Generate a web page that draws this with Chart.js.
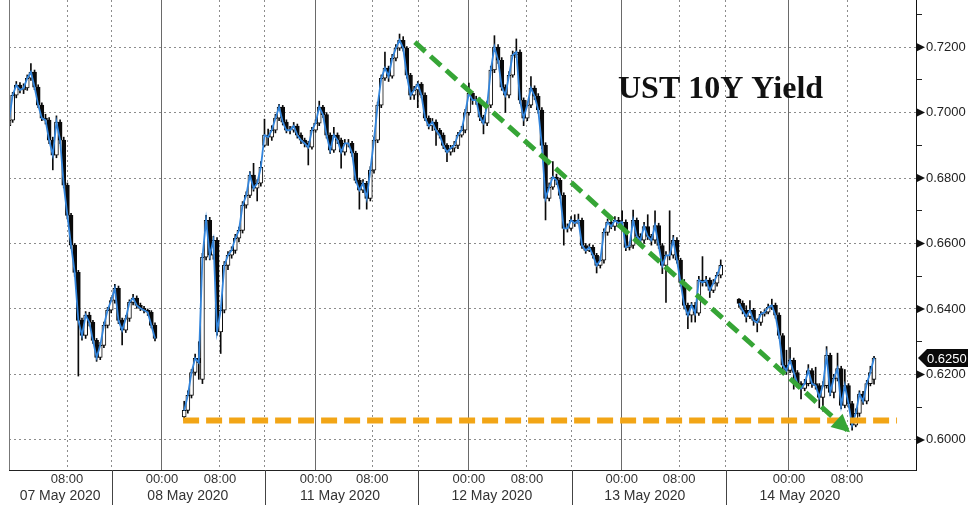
<!DOCTYPE html>
<html>
<head>
<meta charset="utf-8">
<script src="https://cdn.jsdelivr.net/npm/chart.js@4.4.1/dist/chart.umd.min.js"></script>
<style>
  html, body { margin: 0; padding: 0; background: #fff; }
</style>
</head>
<body>
<canvas id="ust-chart" width="976" height="505"></canvas>
<script>
// 30 minute bars. x = slot on the gap-compressed session axis, null = no trading
var opens = [
  .6960,.6977,.7053,.7084,.7069,.7075,.7105,.7124,.7078,.7023,
  .6983,.6977,.6916,.6870,.6971,.6916,.6778,.6686,.6595,.6512,
  .6365,.6319,.6381,.6359,.6304,.6252,.6289,.6350,.6396,.6426,
  .6463,.6365,.6335,.6371,.6420,.6433,.6411,.6402,.6396,.6390,.6350,
  null,null,null,null,null,null,null,
  .6070,.6090,.6136,.6206,.6249,.6185,.6558,.6671,.6564,.6610,
  .6330,.6396,.6533,.6564,.6579,.6616,.6640,.6717,.6747,.6809,.6769,.6784,
  .6900,.6931,.6925,.6946,.6983,.7017,.6971,.6946,.6946,.6959,
  .6931,.6916,.6906,.6894,.6946,.6968,.7017,.6994,.6931,.6885,
  .6931,.6916,.6879,.6906,.6906,.6876,.6793,.6763,.6784,.6738,
  .6824,.6916,.7023,.7105,.7136,.7111,.7166,.7197,.7221,.7197,
  .7114,.7053,.7069,.7087,.7053,.6983,.6959,.6971,.6946,.6931,
  .6900,.6879,.6891,.6900,.6931,.6946,.7000,.7059,.7038,.7038,
  .6986,.6968,.7023,.7130,.7200,.7160,.7078,.7053,.7114,.7176,
  .7185,.7038,.6983,.7023,.7075,.7050,.7008,.6900,.6738,.6772,
  .6803,.6793,.6747,.6646,.6646,.6671,.6662,.6671,.6594,.6579,
  .6588,.6564,.6533,.6549,.6634,.6665,.6652,.6671,.6662,.6665,
  .6588,.6594,.6671,.6622,.6610,.6652,.6622,.6610,.6655,.6594,
  .6533,.6564,.6564,.6610,.6549,.6481,.6411,.6381,.6411,.6387,
  .6488,.6481,.6488,.6457,.6479,.6503,
  null,null,null,null,
  .6430,.6417,.6396,.6377,.6396,.6365,.6359,.6384,.6390,.6405,
  .6411,.6381,.6319,.6228,.6212,.6243,.6206,.6172,.6157,.6172,
  .6212,.6172,.6166,.6130,.6166,.6258,.6145,.6188,.6218,.6105,
  .6166,.6111,.6045,.6081,.6140,.6118,.6172,.6185
];
var highs = [
  .6990,.7062,.7095,.7092,.7088,.7115,.7150,.7130,.7085,.7030,
  .6995,.6985,.6925,.6990,.6978,.6925,.6785,.6692,.6600,.6518,
  .6372,.6392,.6390,.6365,.6310,.6298,.6360,.6405,.6435,.6475,
  .6470,.6372,.6380,.6428,.6445,.6440,.6418,.6408,.6400,.6395,.6358,
  null,null,null,null,null,null,null,
  .6118,.6150,.6215,.6262,.6300,.6570,.6686,.6680,.6622,.6618,
  .6405,.6545,.6575,.6590,.6628,.6650,.6728,.6758,.6820,.6845,.6795,.6850,
  .6980,.6950,.6960,.6995,.7025,.7022,.6978,.6958,.6970,.6965,
  .6938,.6922,.6912,.6955,.6978,.7035,.7022,.7000,.6938,.6955,
  .6938,.6922,.6918,.6918,.6912,.6882,.6800,.6795,.6790,.6835,
  .6925,.7032,.7115,.7185,.7142,.7178,.7208,.7240,.7232,.7202,
  .7120,.7080,.7095,.7092,.7060,.6990,.6982,.6978,.6952,.6938,
  .6905,.6900,.6912,.6940,.6958,.7010,.7090,.7065,.7050,.7045,
  .6992,.7035,.7142,.7235,.7208,.7168,.7085,.7125,.7188,.7225,
  .7192,.7045,.7032,.7110,.7082,.7058,.7015,.6908,.6785,.6850,
  .6812,.6800,.6755,.6660,.6682,.6688,.6690,.6678,.6600,.6598,
  .6595,.6570,.6560,.6645,.6675,.6680,.6682,.6680,.6700,.6672,
  .6605,.6702,.6678,.6630,.6665,.6688,.6628,.6700,.6662,.6600,
  .6575,.6700,.6625,.6618,.6555,.6490,.6418,.6420,.6420,.6500,
  .6560,.6500,.6495,.6490,.6512,.6550,
  null,null,null,null,
  .6432,.6425,.6410,.6426,.6402,.6370,.6392,.6398,.6415,.6430,
  .6418,.6388,.6325,.6274,.6282,.6250,.6212,.6178,.6185,.6230,
  .6218,.6222,.6172,.6178,.6285,.6265,.6200,.6265,.6225,.6215,
  .6172,.6118,.6095,.6150,.6148,.6182,.6225,.6255
];
var lows = [
  .6940,.6970,.7045,.7060,.7058,.7068,.7098,.7070,.7015,.6975,
  .6965,.6905,.6825,.6862,.6905,.6770,.6675,.6585,.6500,.6195,
  .6305,.6310,.6348,.6295,.6240,.6245,.6282,.6342,.6388,.6418,
  .6355,.6290,.6328,.6362,.6412,.6402,.6395,.6388,.6380,.6342,.6302,
  null,null,null,null,null,null,null,
  .6060,.6082,.6128,.6198,.6185,.6172,.6550,.6550,.6552,.6320,
  .6264,.6388,.6520,.6555,.6570,.6605,.6632,.6708,.6740,.6760,.6730,.6775,
  .6895,.6900,.6915,.6938,.6975,.6962,.6938,.6935,.6940,.6922,
  .6905,.6895,.6840,.6888,.6940,.6960,.6985,.6922,.6875,.6878,
  .6905,.6830,.6870,.6895,.6866,.6785,.6705,.6755,.6705,.6730,
  .6815,.6908,.7015,.7098,.7095,.7105,.7158,.7190,.7188,.7105,
  .7040,.7040,.7015,.7045,.6975,.6950,.6945,.6900,.6922,.6890,
  .6850,.6870,.6880,.6890,.6925,.6938,.6992,.7025,.7025,.6975,
  .6935,.6960,.7015,.7122,.7150,.7068,.7000,.7045,.7108,.7168,
  .7028,.6960,.6975,.7015,.7040,.6998,.6890,.6672,.6730,.6765,
  .6780,.6738,.6595,.6635,.6640,.6652,.6660,.6585,.6570,.6575,
  .6555,.6510,.6525,.6540,.6625,.6645,.6640,.6650,.6650,.6578,
  .6580,.6585,.6612,.6600,.6600,.6612,.6595,.6600,.6585,.6508,
  .6420,.6550,.6555,.6540,.6470,.6400,.6340,.6360,.6360,.6380,
  .6470,.6470,.6435,.6450,.6470,.6495,
  null,null,null,null,
  .6405,.6385,.6360,.6370,.6350,.6330,.6350,.6378,.6385,.6398,
  .6372,.6310,.6215,.6200,.6205,.6155,.6160,.6125,.6150,.6165,
  .6160,.6155,.6098,.6088,.6158,.6135,.6128,.6180,.6095,.6098,
  .6100,.6030,.6040,.6072,.6108,.6110,.6165,.6170
];
var closes = [
  .6977,.7053,.7084,.7069,.7075,.7105,.7124,.7078,.7023,.6983,
  .6977,.6916,.6870,.6971,.6916,.6778,.6686,.6595,.6512,.6365,
  .6319,.6381,.6359,.6304,.6252,.6289,.6350,.6396,.6426,.6463,
  .6365,.6335,.6371,.6420,.6433,.6411,.6402,.6396,.6390,.6350,.6310,
  null,null,null,null,null,null,null,
  .6090,.6136,.6206,.6249,.6236,.6558,.6671,.6564,.6610,.6330,
  .6396,.6533,.6564,.6579,.6616,.6640,.6717,.6747,.6809,.6769,.6784,.6833,
  .6931,.6925,.6946,.6983,.7017,.6971,.6946,.6946,.6959,.6931,
  .6916,.6906,.6894,.6946,.6968,.7017,.6994,.6931,.6885,.6931,
  .6916,.6879,.6906,.6906,.6876,.6793,.6763,.6784,.6738,.6824,
  .6916,.7023,.7105,.7136,.7111,.7166,.7197,.7221,.7197,.7114,
  .7053,.7069,.7087,.7053,.6983,.6959,.6971,.6946,.6931,.6900,
  .6879,.6891,.6900,.6931,.6946,.7000,.7059,.7038,.7038,.6986,
  .6968,.7023,.7130,.7200,.7160,.7078,.7053,.7114,.7176,.7185,
  .7038,.6983,.7023,.7075,.7050,.7008,.6900,.6738,.6772,.6803,
  .6793,.6747,.6646,.6646,.6671,.6662,.6671,.6594,.6579,.6588,
  .6564,.6533,.6549,.6634,.6665,.6652,.6671,.6662,.6665,.6588,
  .6594,.6671,.6622,.6610,.6652,.6622,.6610,.6655,.6594,.6533,
  .6564,.6564,.6610,.6549,.6481,.6411,.6381,.6411,.6387,.6488,
  .6481,.6488,.6457,.6479,.6503,.6533,
  null,null,null,null,
  .6417,.6396,.6377,.6396,.6365,.6359,.6384,.6390,.6405,.6411,
  .6381,.6319,.6228,.6212,.6243,.6206,.6172,.6157,.6172,.6212,
  .6172,.6166,.6130,.6166,.6258,.6145,.6188,.6218,.6105,.6166,
  .6111,.6045,.6081,.6140,.6118,.6172,.6206,.6250
];

// axis ticks, in slot units
var dayStarts = [28.2, 70.1, 112.1, 154.2, 196.4];
var midnights = [41.9, 84.1, 126.0, 167.9, 213.7];
var eights = [15.9, 57.8, 99.5, 141.9, 183.6, 229.6];
var dateCenters = [14.0, 49.0, 90.7, 132.3, 174.2, 216.7];
var dateLabels = ['07 May 2020', '08 May 2020', '11 May 2020', '12 May 2020', '13 May 2020', '14 May 2020'];
var yMajor = [0.60, 0.62, 0.64, 0.66, 0.68, 0.70, 0.72];
var yMinor = [0.61, 0.63, 0.65, 0.67, 0.69, 0.71, 0.73];

// hand drawn annotations
var trendX = [111.2, 230.4];
var trendY = [0.7215, 0.6023];
var supportX = [47.7, 243.3];
var supportY = [0.6059, 0.6059];

function inList(list, v) {
  for (var k = 0; k < list.length; k++) {
    if (Math.abs(list[k] - v) < 0.001) return true;
  }
  return false;
}

function noPadding(s) {
  s.paddingTop = 0;
  s.paddingBottom = 0;
  s.paddingLeft = 0;
  s.paddingRight = 0;
}

var wicks = [], bodies = [], closeLine = [];
for (var i = 0; i < closes.length; i++) {
  closeLine.push({ x: i, y: closes[i] });
  if (closes[i] === null) continue;
  wicks.push({ x: i, y: [lows[i], highs[i]] });
  bodies.push({ x: i, y: [opens[i], closes[i]] });
}

var xTicks = dayStarts.concat(midnights, eights).sort(function (a, b) { return a - b; });
var yTicks = yMajor.concat(yMinor).sort(function (a, b) { return a - b; });

var extras = {
  id: 'extras',
  afterDraw: function (chart) {
    var ctx = chart.ctx, area = chart.chartArea;
    var xs = chart.scales.x, ys = chart.scales.y;
    ctx.save();

    // left frame line
    ctx.strokeStyle = '#777';
    ctx.lineWidth = 1;
    ctx.beginPath();
    ctx.moveTo(Math.round(area.left) + 0.5, area.top);
    ctx.lineTo(Math.round(area.left) + 0.5, area.bottom);
    ctx.stroke();

    // day separators below the axis
    ctx.strokeStyle = '#444';
    dayStarts.forEach(function (d) {
      var px = Math.round(xs.getPixelForValue(d)) + 0.5;
      ctx.beginPath();
      ctx.moveTo(px, area.bottom);
      ctx.lineTo(px, chart.height);
      ctx.stroke();
    });

    // pointers on the value axis
    ctx.fillStyle = '#111';
    yMajor.forEach(function (v) {
      var py = ys.getPixelForValue(v);
      ctx.beginPath();
      ctx.moveTo(area.right + 1, py - 4);
      ctx.lineTo(area.right + 9, py);
      ctx.lineTo(area.right + 1, py + 4);
      ctx.closePath();
      ctx.fill();
    });

    // last price tag
    var last = closes[closes.length - 1];
    var ly = ys.getPixelForValue(last);
    ctx.fillStyle = '#0a0a0a';
    ctx.beginPath();
    ctx.moveTo(area.right + 2, ly);
    ctx.lineTo(area.right + 11, ly - 9);
    ctx.lineTo(area.right + 52, ly - 9);
    ctx.lineTo(area.right + 52, ly + 9);
    ctx.lineTo(area.right + 11, ly + 9);
    ctx.closePath();
    ctx.fill();
    ctx.fillStyle = '#fff';
    ctx.font = '13px "Liberation Sans", Arial, sans-serif';
    ctx.textBaseline = 'middle';
    ctx.textAlign = 'left';
    ctx.fillText(last.toFixed(4), area.right + 11, ly + 1);

    // arrow head of the trend line
    var x0 = xs.getPixelForValue(trendX[0]), y0 = ys.getPixelForValue(trendY[0]);
    var x1 = xs.getPixelForValue(trendX[1]), y1 = ys.getPixelForValue(trendY[1]);
    var ang = Math.atan2(y1 - y0, x1 - x0);
    ctx.fillStyle = '#36a536';
    ctx.beginPath();
    ctx.moveTo(x1, y1);
    ctx.lineTo(x1 - 18 * Math.cos(ang) + 9 * Math.sin(ang), y1 - 18 * Math.sin(ang) - 9 * Math.cos(ang));
    ctx.lineTo(x1 - 18 * Math.cos(ang) - 9 * Math.sin(ang), y1 - 18 * Math.sin(ang) + 9 * Math.cos(ang));
    ctx.closePath();
    ctx.fill();

    // title
    ctx.fillStyle = '#111';
    ctx.font = 'bold 32px "Liberation Serif", "Times New Roman", serif';
    ctx.textBaseline = 'alphabetic';
    ctx.fillText('UST 10Y Yield', 618, 98);
    ctx.restore();
  }
};

new Chart(document.getElementById('ust-chart'), {
  type: 'bar',
  data: {
    datasets: [
      {
        type: 'line',
        data: trendX.map(function (v, k) { return { x: v, y: trendY[k] }; }),
        borderColor: '#36a536',
        borderWidth: 5,
        borderDash: [14, 7],
        pointRadius: 0,
        order: 0
      },
      {
        type: 'line',
        data: supportX.map(function (v, k) { return { x: v, y: supportY[k] }; }),
        borderColor: '#f2a516',
        borderWidth: 6,
        borderDash: [16, 7],
        pointRadius: 0,
        order: 1
      },
      {
        type: 'line',
        data: closeLine,
        borderColor: '#3385dc',
        borderWidth: 1.8,
        pointRadius: 0,
        spanGaps: false,
        tension: 0,
        order: 2
      },
      {
        data: bodies,
        grouped: false,
        barThickness: 4,
        borderWidth: 1,
        borderColor: '#0a0a0a',
        borderSkipped: false,
        backgroundColor: function (c) {
          var r = c.raw;
          return r && r.y[1] > r.y[0] ? '#ffffff' : '#0a0a0a';
        },
        order: 3
      },
      {
        data: wicks,
        grouped: false,
        barThickness: 1,
        backgroundColor: '#0a0a0a',
        borderWidth: 0,
        order: 4
      }
    ]
  },
  options: {
    responsive: false,
    animation: false,
    events: [],
    layout: { padding: { left: 9, top: 0, right: 0, bottom: 0 } },
    plugins: { legend: { display: false }, tooltip: { enabled: false }, title: { display: false } },
    scales: {
      x: {
        type: 'linear',
        position: 'bottom',
        min: 0,
        max: 248.5,
        offset: false,
        afterBuildTicks: function (s) { s.ticks = xTicks.map(function (v) { return { value: v }; }); },
        afterFit: function (s) { s.height = 17; noPadding(s); },
        grid: {
          offset: false,
          drawTicks: false,
          lineWidth: 1,
          color: function (c) {
            if (!c.tick) return '#999';
            return inList(midnights, c.tick.value) ? '#6a6a6a' : '#8c8c8c';
          }
        },
        border: {
          color: '#222',
          dash: function (c) {
            if (!c.tick) return [];
            return inList(midnights, c.tick.value) ? [] : [2, 3];
          }
        },
        ticks: {
          autoSkip: false,
          maxRotation: 0,
          padding: 2,
          color: '#333',
          font: { family: '"Liberation Sans", Arial, sans-serif', size: 13 },
          callback: function (v) {
            if (inList(midnights, v)) return '00:00';
            if (inList(eights, v)) return '08:00';
            return '';
          }
        }
      },
      xd: {
        type: 'linear',
        position: 'bottom',
        min: 0,
        max: 248.5,
        offset: false,
        afterBuildTicks: function (s) { s.ticks = dateCenters.map(function (v) { return { value: v }; }); },
        afterFit: function (s) { s.height = 18; noPadding(s); },
        grid: { display: false, drawTicks: false, offset: false },
        border: { display: false },
        ticks: {
          autoSkip: false,
          maxRotation: 0,
          padding: 1,
          color: '#333',
          font: { family: '"Liberation Sans", Arial, sans-serif', size: 14 },
          callback: function (v, idx) { return dateLabels[idx]; }
        }
      },
      y: {
        type: 'linear',
        position: 'right',
        min: 0.5908,
        max: 0.7344,
        afterBuildTicks: function (s) { s.ticks = yTicks.map(function (v) { return { value: v }; }); },
        afterFit: function (s) { s.width = 60; noPadding(s); },
        grid: {
          drawTicks: true,
          tickLength: 6,
          color: function (c) {
            if (!c.tick) return 'rgba(0,0,0,0)';
            return inList(yMajor, c.tick.value) ? '#8c8c8c' : 'rgba(0,0,0,0)';
          },
          tickColor: function (c) {
            if (!c.tick) return '#222';
            return inList(yMajor, c.tick.value) ? 'rgba(0,0,0,0)' : '#222';
          }
        },
        border: {
          color: '#111',
          dash: function (c) { return c.tick ? [2, 3] : []; }
        },
        ticks: {
          padding: 4,
          color: '#222',
          font: { family: '"Liberation Sans", Arial, sans-serif', size: 13 },
          callback: function (v) { return inList(yMajor, v) ? v.toFixed(4) : ''; }
        }
      }
    }
  },
  plugins: [extras]
});
</script>
</body>
</html>
